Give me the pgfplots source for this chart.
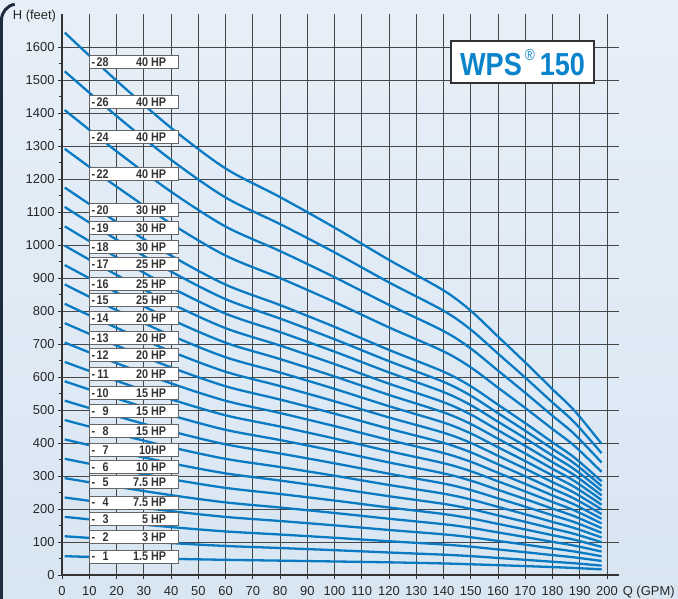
\documentclass[border=0pt]{standalone}
\usepackage{pgfplots}
\pgfplotsset{compat=1.18}
\usepackage{pgfplotstable}
\usepackage{fontspec}
\setmainfont{Liberation Sans}
\newfontfamily\labfont[FakeStretch=0.86]{Liberation Sans}
\newfontfamily\titfont[FakeStretch=0.85]{Liberation Sans}
\definecolor{curve}{HTML}{0A7BC3}
\definecolor{gridc}{HTML}{474747}
\definecolor{bgtop}{HTML}{E7EFF8}
\definecolor{bgbot}{HTML}{D8E6F2}
\definecolor{framec}{HTML}{1E2D3D}
\definecolor{labtext}{HTML}{333333}
\definecolor{titblue}{HTML}{0B84CB}

\pgfplotstableread{
x   s1   s2    s3    s4    s5    s6    s7    s8    s9    s10  s11   s12   s13   s14   s15   s16   s17   s18    s19    s20  s22    s24    s26    s28
1   57   117.4 176.1 234.8 293.5 352.2 410.9 469.6 528.3 587  645.7 704.4 763.1 821.8 880.5 939.2 997.9 1056.6 1115.3 1174 1291.4 1408.8 1526.2 1643.6
20  52.5 107   160.5 214   267.5 321   374.5 428   481.5 535  588.5 642   695.5 749   802.5 856   909.5 963    1016.5 1070 1177   1284   1391   1498
40  49   96.8  145.2 193.6 242   290.4 338.8 387.2 435.6 484  532.4 580.8 629.2 677.6 726   774.4 822.8 871.2  919.6  968  1064.8 1161.6 1258.4 1355.2
60  46   88    132   176   220   264   308   352   396   440  484   528   572   616   660   704   748   792    836    880  968    1056   1144   1232
80  43.5 81.8  122.7 163.6 204.5 245.4 286.3 327.2 368.1 409  449.9 490.8 531.7 572.6 613.5 654.4 695.3 736.2  777.1  818  899.8  981.6  1063.4 1145.2
100 41   75.2  112.8 150.4 188   225.6 263.2 300.8 338.4 376  413.6 451.2 488.8 526.4 564   601.6 639.2 676.8  714.4  752  827.2  902.4  977.6  1052.8
120 38.4 68.2  102.3 136.4 170.5 204.6 238.7 272.8 306.9 341  375.1 409.2 443.3 477.4 511.5 545.6 579.7 613.8  647.9  682  750.2  818.4  886.6  954.8
140 35   61.6  92.4  123.2 154   184.8 215.6 246.4 277.2 308  338.8 369.6 400.4 431.2 462   492.8 523.6 554.4  585.2  616  677.6  739.2  800.8  862.4
150 32.5 57.2  85.8  114.4 143   171.6 200.2 228.8 257.4 286  314.6 343.2 371.8 400.4 429   457.6 486.2 514.8  543.4  572  629.2  686.4  743.6  800.8
160 29.8 51.6  77.4  103.2 129   154.8 180.6 206.4 232.2 258  283.8 309.6 335.4 361.2 387   412.8 438.6 464.4  490.2  516  567.6  619.2  670.8  722.4
170 27   46    69    92    115   138   161   184   207   230  253   276   299   322   345   368   391   414    437    460  506    552    598    644
180 24   40.2  60.3  80.4  100.5 120.6 140.7 160.8 180.9 201  221.1 241.2 261.3 281.4 301.5 321.6 341.7 361.8  381.9  402  442.2  482.4  522.6  562.8
188 21.3 35.6  53.4  71.2  89    106.8 124.6 142.4 160.2 178  195.8 213.6 231.4 249.2 267   284.8 302.6 320.4  338.2  356  391.6  427.2  462.8  498.4
198 17.2 28.4  42.6  56.8  71    85.2  99.4  113.6 127.8 142  156.2 170.4 184.6 198.8 213   227.2 241.4 255.6  269.8  284  312.4  340.8  369.2  397.6
}\curves

\tikzset{labbox/.style={draw=black!60, line width=0.8bp, fill=white, anchor=west,
  minimum width=89bp, minimum height=13bp, inner sep=0pt,
  font=\labfont\bfseries\fontsize{12.6}{12.6}\selectfont, text=labtext}}
\newcommand{\lab}[3]{\node[labbox] at (axis cs:10,#3)
  {\makebox[89bp]{\hspace{2bp}-\makebox[13.5bp][r]{#1}\hfill #2\hspace{12.5bp}}};}

\begin{document}
\begin{tikzpicture}[x=1bp,y=1bp]
\useasboundingbox (-62,-24) rectangle (616,575);
\shade[top color=bgtop, bottom color=bgbot] (-62,-24) rectangle (616,575);
\draw[framec, line width=3bp] (-60.5,-24) -- (-60.5,555) arc[start angle=180, end angle=100, radius=16];
\begin{axis}[
  at={(0,0)}, anchor=south west,
  scale only axis, width=557.3bp, height=561bp,
  xmin=0, xmax=204.5, ymin=0, ymax=1700,
  axis lines=left, axis line style={-, color=black!80, line width=1.1bp},
  xtick={0,10,...,200}, ytick={0,100,...,1600},
  minor ytick={50,150,...,1550},
  grid=major, major grid style={gridc, line width=0.9bp},
  tick align=outside, major tick length=4bp, minor tick length=2.5bp,
  tick style={black!80, line width=0.8bp},
  ticklabel style={font=\fontsize{13}{13}\selectfont, text=black!85},
  xticklabel style={yshift=-3.5bp},
  /pgf/number format/assume math mode=true,
  /pgf/number format/1000 sep={},
  clip=false,
]
\pgfplotsinvokeforeach{1,2,...,20,22,24,26,28}{
  \addplot[curve, line width=2.3bp, smooth, no markers] table[x=x, y=s#1] {\curves};
}
\lab{28}{40 HP}{1553.6}
\lab{26}{40 HP}{1434}
\lab{24}{40 HP}{1328}
\lab{22}{40 HP}{1215}
\lab{20}{30 HP}{1106}
\lab{19}{30 HP}{1050.6}
\lab{18}{30 HP}{994.8}
\lab{17}{25 HP}{941.5}
\lab{16}{25 HP}{881.8}
\lab{15}{25 HP}{833}
\lab{14}{20 HP}{777.9}
\lab{13}{20 HP}{719}
\lab{12}{20 HP}{666.7}
\lab{11}{20 HP}{609}
\lab{10}{15 HP}{552.4}
\lab{9}{15 HP}{497.9}
\lab{8}{15 HP}{437.3}
\lab{7}{10HP}{378.8}
\lab{6}{10 HP}{326.4}
\lab{5}{7.5 HP}{280.9}
\lab{4}{7.5 HP}{219}
\lab{3}{5 HP}{168.8}
\lab{2}{3 HP}{114.2}
\lab{1}{1.5 HP}{55.5}
\node[draw=black!80, line width=2.6bp, fill=white, minimum width=143bp, minimum height=42bp, inner sep=0pt]
  at (axis cs:169,1554)
  {\color{titblue}\titfont\bfseries\fontsize{32}{32}\selectfont WPS\hspace{3bp}\raisebox{15bp}{\mdseries\fontsize{16}{16}\selectfont\textregistered}\hspace{5bp}150};
\node[anchor=base west, font=\fontsize{13}{13}\selectfont, text=black!85] at (axis cs:204.5,0) [yshift=-21bp] {Q (GPM)};
\end{axis}
\node[anchor=base west, font=\fontsize{13}{13}\selectfont, text=black!85] at (-52.7,555) {H (feet)};
\end{tikzpicture}
\end{document}
